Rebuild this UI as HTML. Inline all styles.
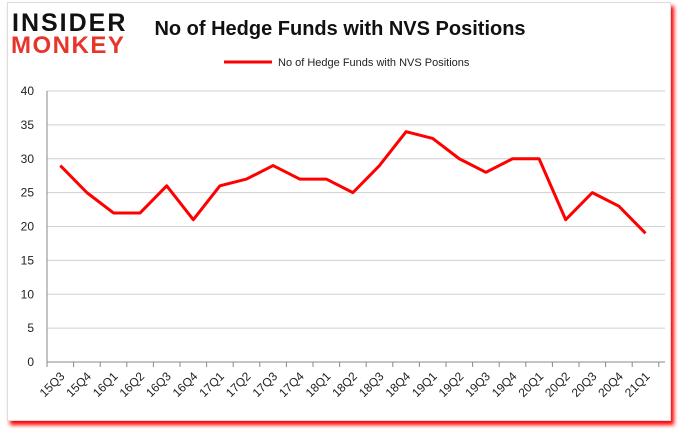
<!DOCTYPE html>
<html><head><meta charset="utf-8"><style>
body{margin:0;width:680px;height:433px;background:#fff;overflow:hidden;font-family:"Liberation Sans",sans-serif}
#frame{position:absolute;left:7px;top:2px;width:662px;height:417px;background:#fff;border:1px solid #ddd;box-shadow:3px 4px 4px #f00}
</style></head><body>
<div id="frame"></div>
<svg id="c" width="680" height="433" style="position:absolute;left:0;top:0">
<text x="12" y="31" font-size="25" font-weight="bold" fill="#111" font-family="Liberation Sans" letter-spacing="2">INSIDER</text>
<text x="11" y="53" font-size="24" font-weight="bold" fill="#e8352a" font-family="Liberation Sans" letter-spacing="1.5">MONKEY</text>
<text x="340" y="35" font-size="20" font-weight="bold" text-anchor="middle" fill="#111">No of Hedge Funds with NVS Positions</text>
<line x1="224" y1="62" x2="272" y2="62" stroke="#f00" stroke-width="3"/>
<text x="278" y="66" font-size="11" fill="#222">No of Hedge Funds with NVS Positions</text>
</svg>
<script>
const categories=["15Q3","15Q4","16Q1","16Q2","16Q3","16Q4","17Q1","17Q2","17Q3","17Q4","18Q1","18Q2","18Q3","18Q4","19Q1","19Q2","19Q3","19Q4","20Q1","20Q2","20Q3","20Q4","21Q1"];
const values=[29,25,22,22,26,21,26,27,29,27,27,25,29,34,33,30,28,30,30,21,25,23,19];
const yTicks=[0,5,10,15,20,25,30,35,40];
const svg=document.getElementById('c');const NS='http://www.w3.org/2000/svg';
const L=47,R=665,T=91,B=362,yMax=40;
const step=26.6;
const xs=i=>L+step*(i+0.5);const ys=v=>B-(B-T)*v/yMax;
function mk(t,a){const e=document.createElementNS(NS,t);for(const k in a)e.setAttribute(k,a[k]);svg.appendChild(e);return e;}
yTicks.forEach(v=>{
 const g=mk('line',{x1:L,x2:R,y1:ys(v),y2:ys(v),stroke:v===0?'#888':'#d0d0d0','stroke-width':1});
 
 
 const t=mk('text',{x:L-13,y:ys(v)+4,'font-size':12,'text-anchor':'end',fill:'#222'});t.textContent=v;
 
 
});
const ax=mk('line',{x1:L,x2:L,y1:T,y2:B,stroke:'#888'});


for(let i=0;i<=categories.length;i++){const tk=mk('line',{x1:L+step*i,x2:L+step*i,y1:B,y2:B+5,stroke:'#888'});
 
 }
categories.forEach((c,i)=>{const x=xs(i)+5,y=B+15;
 const t=mk('text',{x:x,y:y,'font-size':12,'text-anchor':'end',fill:'#222',transform:`rotate(-45 ${x} ${y})`});t.textContent=c;
 
 });
const p=mk('polyline',{points:values.map((v,i)=>xs(i)+','+ys(v)).join(' '),fill:'none',stroke:'#f00','stroke-width':3,'stroke-linejoin':'round'});


</script>
</body></html>
